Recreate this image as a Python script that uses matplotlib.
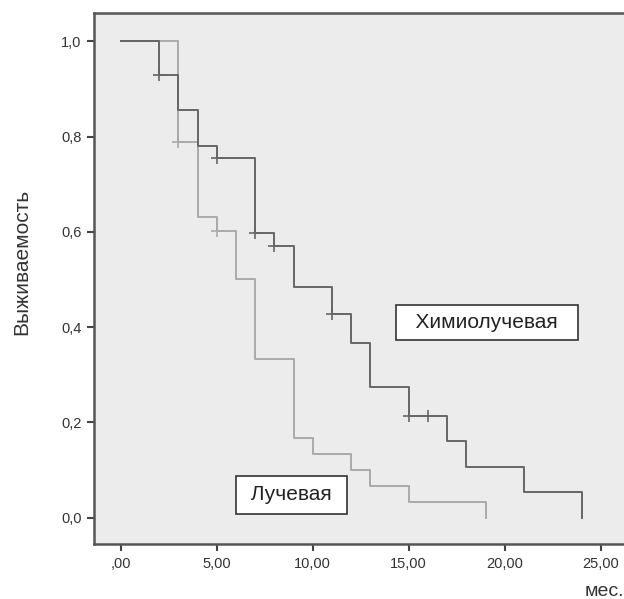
import matplotlib.pyplot as plt

plt.rcParams['font.family'] = ['Liberation Sans', 'DejaVu Sans']

# Kaplan-Meier steps
chemo_t = [0, 2, 3, 4, 5, 7, 8, 9, 11, 12, 13, 15, 17, 18, 21, 24]
chemo_s = [1.0, 0.929, 0.856, 0.780, 0.754, 0.597, 0.570, 0.485, 0.428,
           0.367, 0.274, 0.213, 0.160, 0.106, 0.053, 0.0]
chemo_cens_t = [2, 5, 7, 8, 11, 15, 16]
chemo_cens_s = [0.929, 0.754, 0.597, 0.570, 0.428, 0.213, 0.213]

rad_t = [0, 3, 4, 5, 6, 7, 9, 10, 12, 13, 15, 19]
rad_s = [1.0, 0.789, 0.632, 0.602, 0.502, 0.333, 0.167, 0.133, 0.100,
         0.067, 0.033, 0.0]
rad_cens_t = [3, 5]
rad_cens_s = [0.789, 0.602]

xticks = [0, 5, 10, 15, 20, 25]
xticklabels = [',00', '5,00', '10,00', '15,00', '20,00', '25,00']
yticks = [0.0, 0.2, 0.4, 0.6, 0.8, 1.0]
yticklabels = ['0,0', '0,2', '0,4', '0,6', '0,8', '1,0']

dark = '#666666'
light = '#aaaaaa'

fig = plt.figure(figsize=(6.24, 5.99), dpi=100)
ax = fig.add_axes([94 / 624, 55 / 599, 530 / 624, 531 / 599])
ax.set_facecolor('#ececec')

ax.step(rad_t, rad_s, where='post', color=light, lw=1.4)
ax.step(chemo_t, chemo_s, where='post', color=dark, lw=1.4)
ax.plot(rad_cens_t, rad_cens_s, '+', color=light, ms=8, mew=1.2)
ax.plot(chemo_cens_t, chemo_cens_s, '+', color=dark, ms=8, mew=1.2)

ax.set_xlim(-1.39, 26.21)
ax.set_ylim(-0.0552, 1.0592)
ax.set_xticks(xticks)
ax.set_xticklabels(xticklabels)
ax.set_yticks(yticks)
ax.set_yticklabels(yticklabels)
ax.tick_params(length=5, width=1.5, color='#444444', labelsize=10.5,
               labelcolor='#333333', pad=4)

for side in ['left', 'bottom', 'top']:
    ax.spines[side].set_color('#555555')
    ax.spines[side].set_linewidth(1.8)
ax.spines['right'].set_visible(False)

ax.text(19.08, 0.41, '  Химиолучевая  ', fontsize=15, ha='center',
        va='center', color='#222222',
        bbox=dict(boxstyle='square,pad=0.4', fc='white', ec='#333333', lw=1.2))
ax.text(8.9, 0.048, ' Лучевая ', fontsize=15, ha='center', va='center',
        color='#222222',
        bbox=dict(boxstyle='square,pad=0.45', fc='white', ec='#333333', lw=1.2))

fig.text(22 / 624, 1 - 262 / 599, 'Выживаемость', rotation=90, fontsize=15,
         ha='center', va='center', color='#333333')
fig.text(604 / 624, 1 - 592 / 599, 'мес.', fontsize=14, ha='center',
         va='center', color='#333333')

fig.savefig('out.png', dpi=100)
